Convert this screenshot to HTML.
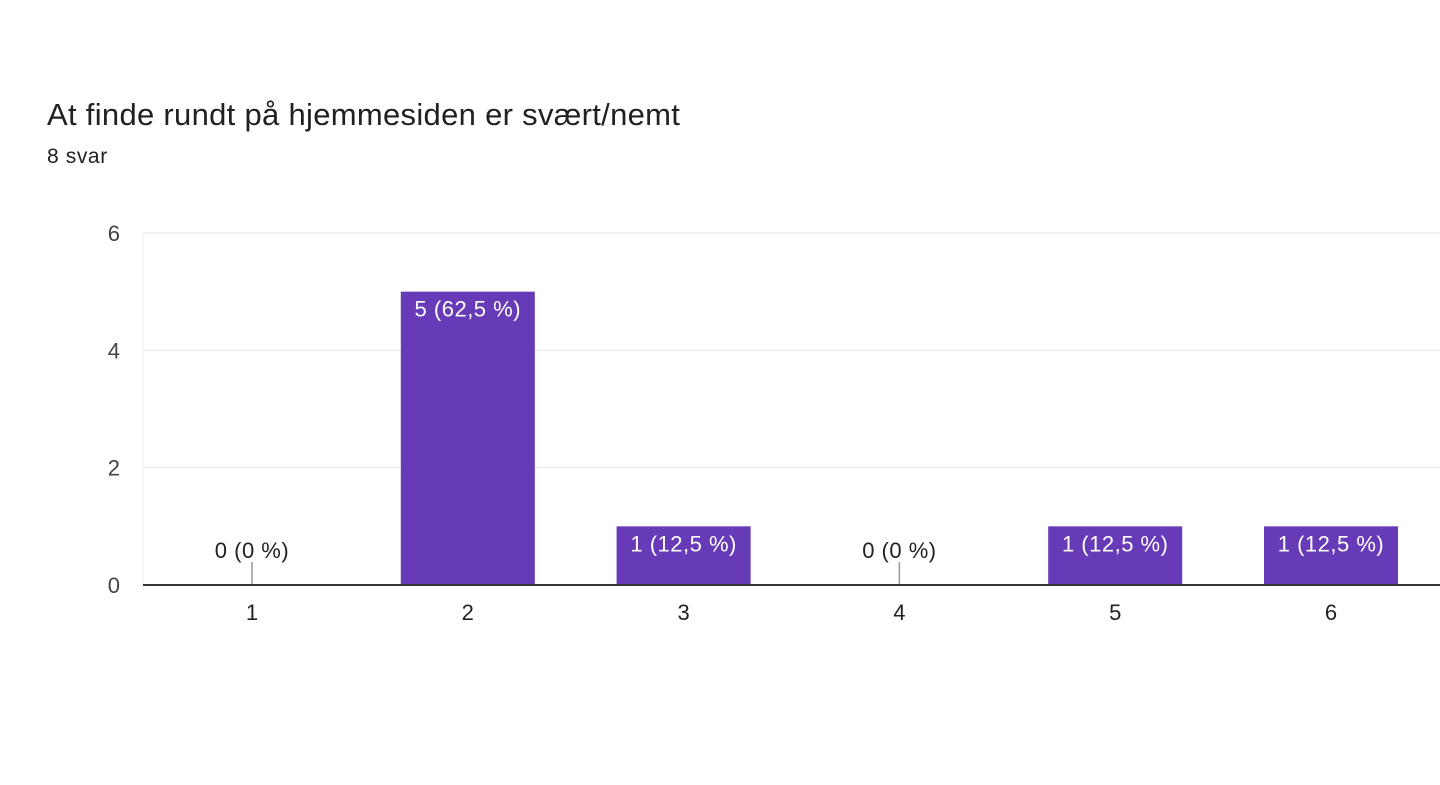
<!DOCTYPE html>
<html><head><meta charset="utf-8">
<style>
html,body{margin:0;padding:0;background:#fff;width:1440px;height:785px;overflow:hidden;font-family:"Liberation Sans",Arial,sans-serif;}
#title{position:absolute;left:47px;top:97px;font-size:31px;letter-spacing:0.3px;color:#202124;}
#sub{position:absolute;left:47px;top:145px;font-size:21px;letter-spacing:0.6px;color:#202124;}
svg{position:absolute;left:0;top:0;}
</style></head><body>
<div id="title">At finde rundt på hjemmesiden er svært/nemt</div>
<div id="sub">8 svar</div>
<svg id="chart" width="1440" height="785"></svg>
<script>
const categories=["1","2","3","4","5","6"];
const values=[0,5,1,0,1,1];
const valueLabels=["0 (0 %)","5 (62,5 %)","1 (12,5 %)","0 (0 %)","1 (12,5 %)","1 (12,5 %)"];
const yTicks=[0,2,4,6];

const NS="http://www.w3.org/2000/svg";
const svg=document.getElementById('chart');
const left=143,right=1440,y0=585,yTop=233,yMax=6;
const step=(1331-252)/5,firstX=252,barW=134;
const y=v=>y0-(v/yMax)*(y0-yTop);
const x=i=>firstX+i*step;
const FF='Liberation Sans, Arial, sans-serif';
function mk(t,a){const e=document.createElementNS(NS,t);for(const k in a)e.setAttribute(k,a[k]);svg.appendChild(e);return e;}

const frame=mk('line',{x1:left,y1:yTop,x2:left,y2:y0,stroke:'#eeeeee','stroke-width':1});


yTicks.forEach(t=>{
  if(t>0){const g=mk('line',{x1:left,y1:y(t),x2:right,y2:y(t),stroke:'#e6e6e6','stroke-width':1});
  
  }
  const l=mk('text',{x:120,y:y(t)+8,'text-anchor':'end','font-size':22,fill:'#444','font-family':FF});
  l.textContent=t;
  
  
});
categories.forEach((c,i)=>{
  const cx=x(i);
  if(values[i]>0){
    const b=mk('rect',{x:cx-barW/2,y:y(values[i]),width:barW,height:y0-y(values[i]),fill:'#673ab7'});
    
    
    const t=mk('text',{x:cx,y:y(values[i])+25,'text-anchor':'middle','font-size':22,'letter-spacing':0.5,fill:'#fff','font-family':FF});
    t.textContent=valueLabels[i];
    
    
  }else{
    const s=mk('line',{x1:cx,y1:y0-23,x2:cx,y2:y0,stroke:'#999','stroke-width':1.5});
    
    
    const t=mk('text',{x:cx,y:y0-27,'text-anchor':'middle','font-size':22,'letter-spacing':0.5,fill:'#222','font-family':FF});
    t.textContent=valueLabels[i];
    
    
  }
  const xl=mk('text',{x:cx,y:620,'text-anchor':'middle','font-size':22,fill:'#222','font-family':FF});
  xl.textContent=c;
  
  
});
const base=mk('line',{x1:left,y1:y0,x2:right,y2:y0,stroke:'#333','stroke-width':2});


</script>
</body></html>
